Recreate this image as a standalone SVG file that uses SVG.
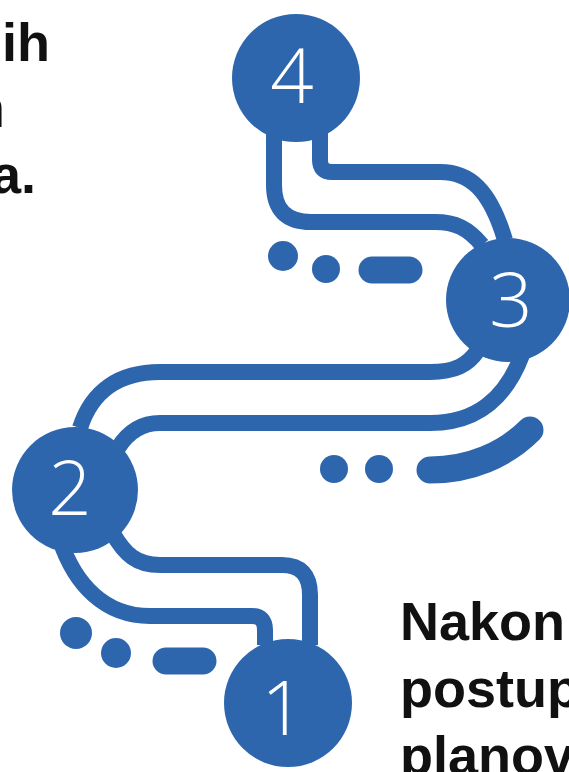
<svg xmlns="http://www.w3.org/2000/svg" width="569" height="772" viewBox="0 0 569 772">
<style>
.road{fill:none;stroke:#2E66AE;stroke-width:16;stroke-linecap:butt}
.dash{fill:none;stroke:#2E66AE;stroke-width:27;stroke-linecap:round}
.dot{fill:#2E66AE}
.node circle{fill:#2E66AE}
.num{fill:#ffffff;font-family:"Open Sans","Noto Sans",sans-serif;font-weight:300;font-size:76px;text-anchor:middle}
.tb{fill:#111;font-family:"Liberation Sans",Arial,sans-serif;font-weight:bold;font-size:54px}
.tr{fill:#111;font-family:"Liberation Sans",Arial,sans-serif;font-size:54px}
</style>
<rect width="569" height="772" fill="#ffffff"/>
<g id="connectors">
<path class="road" d="M320,130 L320,160 Q320,172 332,172 L440,172 C470,172 490,190 505,240"/>
<path class="road" d="M274,130 L274,185 Q274,222 311,222 L435,222 C455,222 468,228 482,245"/>
<path class="road" d="M478,350 C468,365 455,372 430,372 L160,372 C120,372 92,390 80,428"/>
<path class="road" d="M522,355 C505,400 475,423 430,423 L160,423 C142,423 128,432 118,448"/>
<path class="road" d="M112,532 C125,555 137,565 160,565 L282,565 Q310,565 310,595 L310,645"/>
<path class="road" d="M60,540 C75,585 105,616 150,616 L252,616 Q265,616 265,630 L265,645"/>
</g>
<g id="dashes">
<circle class="dot" cx="283" cy="256" r="15"/>
<circle class="dot" cx="326" cy="269" r="14"/>
<path class="dash" d="M372,270 L409,270"/>
<circle class="dot" cx="334" cy="469" r="14"/>
<circle class="dot" cx="379" cy="469" r="14"/>
<path class="dash" d="M430,470 C470,470 505,455 530,430"/>
<circle class="dot" cx="76" cy="633" r="16"/>
<circle class="dot" cx="116" cy="653" r="15"/>
<path class="dash" d="M166,661 L203,661"/>
</g>
<g id="node4" class="node"><circle cx="296" cy="78" r="64"/><text class="num" x="292" y="103">4</text></g>
<g id="node3" class="node"><circle cx="508" cy="300" r="62"/><text class="num" x="511" y="327">3</text></g>
<g id="node2" class="node"><circle cx="75" cy="490" r="63"/><text class="num" x="70" y="515">2</text></g>
<g id="node1" class="node"><circle cx="288" cy="703" r="64"/><text class="num" x="283" y="735">1</text></g>
<g id="texts">
<text class="tb" x="2" y="61">ih</text>
<text class="tr" x="-25" y="127">n</text>
<text class="tb" x="-9" y="193">a.</text>
<text class="tb" x="400" y="640">Nakon</text>
<text class="tb" x="400" y="707">postup</text>
<text class="tb" x="400" y="774">planov</text>
</g>
</svg>
